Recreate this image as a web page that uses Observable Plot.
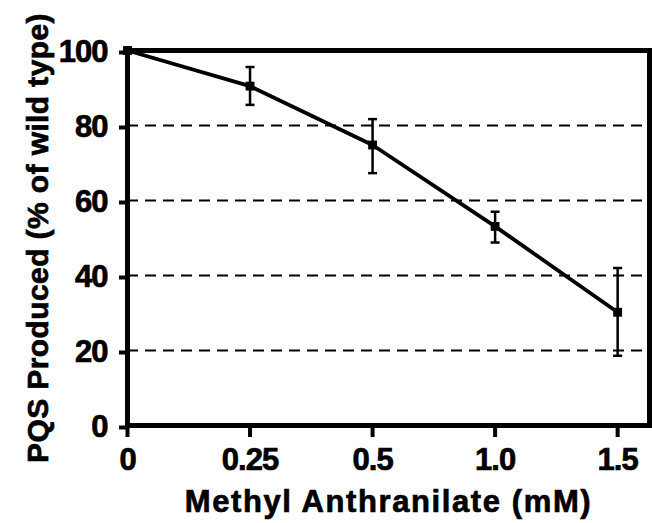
<!DOCTYPE html>
<html>
<head>
<meta charset="utf-8">
<script src="https://cdn.jsdelivr.net/npm/d3@7"></script>
<script src="https://cdn.jsdelivr.net/npm/@observablehq/plot@0.6"></script>
<style>
  html, body { margin: 0; padding: 0; background: #fff; }
  svg { display: block; }
  svg text { stroke: #000; stroke-width: 0.7px; paint-order: stroke; }
</style>
</head>
<body>
<div id="chart"></div>
<script>
// Data
const doses = ["0", "0.25", "0.5", "1.0", "1.5"];          // x tick labels (mM)
const pqs = [100, 90.5, 74.8, 53.1, 30.2];                   // PQS produced (% of wild type)
const errLow = [null, 85.5, 67.3, 48.8, 18.6];
const errHigh = [null, 95.6, 81.7, 57.0, 42.0];
const yTicks = [0, 20, 40, 60, 80, 100];
const gridValues = [20, 40, 60, 80];
const xLabel = "Methyl Anthranilate (mM)";
const yLabel = "PQS Produced (% of wild type)";

const data = doses.map((d, i) => ({i, dose: d, y: pqs[i], lo: errLow[i], hi: errHigh[i]}));
const errData = data.filter(d => d.lo != null);

// horizontal-line symbol for error bar caps
const capSymbol = {
  draw(context, size) {
    const r = Math.sqrt(size / Math.PI);
    context.moveTo(-r, 0);
    context.lineTo(r, 0);
  }
};

const chart = Plot.plot({
  width: 652,
  height: 523,
  marginLeft: 127,
  marginRight: 3,
  marginTop: 50,
  marginBottom: 98,
  style: {fontFamily: "'Liberation Sans', Arial, sans-serif", fontWeight: "bold", color: "#000", background: "#fff"},
  x: {domain: [0, 4.26], axis: null},
  y: {domain: [0, 100], axis: null},
  marks: [
    Plot.ruleY(gridValues, {stroke: "#000", strokeWidth: 2, strokeDasharray: "11,7"}),
    Plot.axisY({ticks: yTicks, tickSize: 8, tickPadding: 12, strokeWidth: 4, fontSize: 31, fontWeight: "bold", label: null, dy: 2}),
    Plot.axisX({ticks: d3.range(doses.length), tickFormat: i => doses[i], tickSize: 12, tickPadding: 10, strokeWidth: 4, fontSize: 31, fontWeight: "bold", label: null}),
    Plot.frame({stroke: "#000", strokeWidth: 5}),
    Plot.ruleX(errData, {x: "i", y1: "lo", y2: "hi", stroke: "#000", strokeWidth: 2.5}),
    Plot.dot(errData, {x: "i", y: "lo", symbol: capSymbol, r: 4.5, stroke: "#000", strokeWidth: 2.5, fill: "none"}),
    Plot.dot(errData, {x: "i", y: "hi", symbol: capSymbol, r: 4.5, stroke: "#000", strokeWidth: 2.5, fill: "none"}),
    Plot.line(data, {x: "i", y: "y", stroke: "#000", strokeWidth: 3.8}),
    Plot.dot(data, {x: "i", y: "y", symbol: "square", r: 5, fill: "#000", stroke: "none"}),
    Plot.text([yLabel], {frameAnchor: "left", textAnchor: "middle", lineAnchor: "middle", rotate: -90, dx: -89, fontSize: 30, fontWeight: "bold", fill: "#000"}),
    Plot.text([xLabel], {frameAnchor: "bottom", textAnchor: "middle", lineAnchor: "middle", dy: 77, fontSize: 31, fontWeight: "bold", fill: "#000"})
  ]
});
chart.querySelectorAll("text").forEach(t => {
  if (t.textContent === xLabel) t.style.letterSpacing = "1.6px";
  if (t.textContent === yLabel) t.style.letterSpacing = "0.4px";
});
chart.querySelectorAll('g[aria-label="y-axis tick label"], g[aria-label="x-axis tick label"]').forEach(g => {
  g.setAttribute("font-size", 31);
  g.setAttribute("font-weight", "bold");
  g.style.letterSpacing = "-1px";
});
document.getElementById("chart").appendChild(chart);
</script>
</body>
</html>
